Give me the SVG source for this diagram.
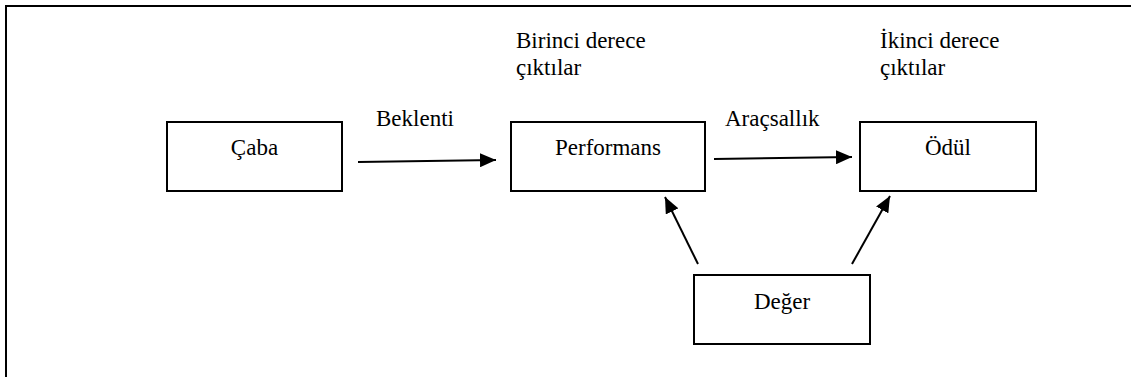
<svg xmlns="http://www.w3.org/2000/svg" width="1131" height="377" viewBox="0 0 1131 377">
<style>
.box{fill:#fff;stroke:#000;stroke-width:2}
text{font-family:'Liberation Serif','DejaVu Serif',serif;font-size:23px;fill:#000}
.c{text-anchor:middle}
.conn line{stroke:#000;stroke-width:2;marker-end:url(#ah)}
.frame{stroke:#000;stroke-width:2;fill:none}
</style>
<defs>
<marker id="ah" markerUnits="userSpaceOnUse" markerWidth="16" markerHeight="14" refX="16" refY="7" orient="auto">
<path d="M0,0 L16,7 L0,14 z" fill="#000"/>
</marker>
</defs>
<rect width="1131" height="377" fill="#fff"/>
<path class="frame" d="M6,377 L6,6 L1131,6"/>
<g id="caba"><rect class="box" x="167" y="122" width="175" height="69"/><text class="c" x="254.5" y="155" font-family="Liberation Serif, serif">Çaba</text></g>
<g id="performans"><rect class="box" x="511" y="122" width="194" height="69"/><text class="c" x="608" y="155" font-family="Liberation Serif, serif">Performans</text></g>
<g id="odul"><rect class="box" x="860" y="122" width="176" height="69"/><text class="c" x="948" y="155" font-family="Liberation Serif, serif">Ödül</text></g>
<g id="deger"><rect class="box" x="694" y="275" width="176" height="69"/><text class="c" x="782" y="309" font-family="Liberation Serif, serif">Değer</text></g>
<g id="labels" font-family="Liberation Serif, serif">
<text x="376" y="126">Beklenti</text>
<text x="725" y="126">Araçsallık</text>
<text x="516" y="48">Birinci derece</text>
<text x="516" y="75">çıktılar</text>
<text x="880" y="48">İkinci derece</text>
<text x="880" y="75">çıktılar</text>
</g>
<g id="connectors" class="conn">
<line x1="358" y1="162" x2="496" y2="160"/>
<line x1="714" y1="159" x2="852" y2="157"/>
<line x1="698" y1="264" x2="665" y2="197"/>
<line x1="852" y1="264" x2="890" y2="196"/>
</g>
</svg>
